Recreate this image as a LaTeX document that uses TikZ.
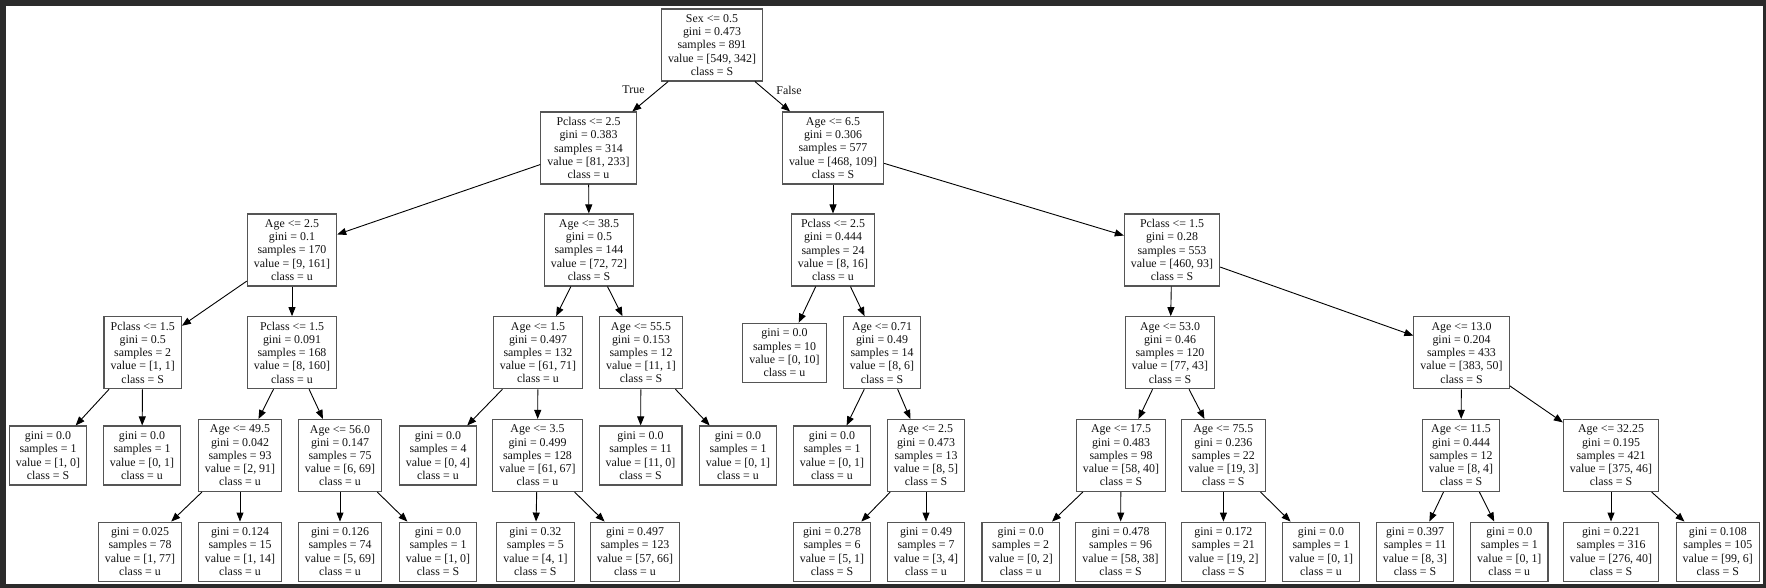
\documentclass[tikz,border=0pt]{standalone}
\usepackage{fontspec}
\setmainfont{Liberation Serif}
\usetikzlibrary{arrows.meta}
\definecolor{framegray}{HTML}{2B2B2B}
\definecolor{boxgray}{HTML}{555555}
\definecolor{txt}{HTML}{111111}
\tikzset{
  tnode/.style={draw=boxgray, line width=1.1pt, fill=white, text=txt, align=center,
    inner xsep=6.6pt, inner ysep=2pt, font=\fontsize{11.9}{13.2}\selectfont},
  split/.style={tnode, minimum height=72pt},
  leaf/.style={tnode, minimum height=59pt},
  edge/.style={draw=black, line width=0.9pt, -{Triangle[length=9pt,width=7pt]}},
  elabel/.style={text=txt, inner sep=0pt, font=\fontsize{11.9}{13.2}\selectfont}
}
\begin{document}
\begin{tikzpicture}[x=1pt,y=-1pt]
\useasboundingbox (0,0) rectangle (1766,588);
\fill[framegray] (0,0) rectangle (1766,588);
\fill[white] (5.7,6) rectangle (1762.7,583.5);

% level 0
\node[split] (n0) at (712,45) {Sex <= 0.5\\gini = 0.473\\samples = 891\\value = [549, 342]\\class = S};
% level 1
\node[split] (n1) at (588.5,148) {Pclass <= 2.5\\gini = 0.383\\samples = 314\\value = [81, 233]\\class = u};
\node[split] (n2) at (833,148) {Age <= 6.5\\gini = 0.306\\samples = 577\\value = [468, 109]\\class = S};
% level 2
\node[split] (n3) at (292,250) {Age <= 2.5\\gini = 0.1\\samples = 170\\value = [9, 161]\\class = u};
\node[split] (n4) at (589,250) {Age <= 38.5\\gini = 0.5\\samples = 144\\value = [72, 72]\\class = S};
\node[split] (n5) at (833,250) {Pclass <= 2.5\\gini = 0.444\\samples = 24\\value = [8, 16]\\class = u};
\node[split] (n6) at (1172,250) {Pclass <= 1.5\\gini = 0.28\\samples = 553\\value = [460, 93]\\class = S};
% level 3
\node[split] (n7) at (142.7,352.7) {Pclass <= 1.5\\gini = 0.5\\samples = 2\\value = [1, 1]\\class = S};
\node[split] (n8) at (292,352.7) {Pclass <= 1.5\\gini = 0.091\\samples = 168\\value = [8, 160]\\class = u};
\node[split] (n9) at (538,352.7) {Age <= 1.5\\gini = 0.497\\samples = 132\\value = [61, 71]\\class = u};
\node[split] (n10) at (641,352.7) {Age <= 55.5\\gini = 0.153\\samples = 12\\value = [11, 1]\\class = S};
\node[leaf] (n11) at (784.5,352.7) {gini = 0.0\\samples = 10\\value = [0, 10]\\class = u};
\node[split] (n12) at (882,352.7) {Age <= 0.71\\gini = 0.49\\samples = 14\\value = [8, 6]\\class = S};
\node[split] (n13) at (1170,352.7) {Age <= 53.0\\gini = 0.46\\samples = 120\\value = [77, 43]\\class = S};
\node[split] (n14) at (1461.5,352.7) {Age <= 13.0\\gini = 0.204\\samples = 433\\value = [383, 50]\\class = S};
% level 4
\node[leaf] (n15) at (48,455.5) {gini = 0.0\\samples = 1\\value = [1, 0]\\class = S};
\node[leaf] (n16) at (142,455.5) {gini = 0.0\\samples = 1\\value = [0, 1]\\class = u};
\node[split] (n17) at (240,455.5) {Age <= 49.5\\gini = 0.042\\samples = 93\\value = [2, 91]\\class = u};
\node[split] (n18) at (340,455.5) {Age <= 56.0\\gini = 0.147\\samples = 75\\value = [6, 69]\\class = u};
\node[leaf] (n19) at (438,455.5) {gini = 0.0\\samples = 4\\value = [0, 4]\\class = u};
\node[split] (n20) at (537.5,455.5) {Age <= 3.5\\gini = 0.499\\samples = 128\\value = [61, 67]\\class = u};
\node[leaf] (n21) at (640.5,455.5) {gini = 0.0\\samples = 11\\value = [11, 0]\\class = S};
\node[leaf] (n22) at (738,455.5) {gini = 0.0\\samples = 1\\value = [0, 1]\\class = u};
\node[leaf] (n23) at (832,455.5) {gini = 0.0\\samples = 1\\value = [0, 1]\\class = u};
\node[split] (n24) at (926,455.5) {Age <= 2.5\\gini = 0.473\\samples = 13\\value = [8, 5]\\class = S};
\node[split] (n25) at (1121,455.5) {Age <= 17.5\\gini = 0.483\\samples = 98\\value = [58, 40]\\class = S};
\node[split] (n26) at (1223.4,455.5) {Age <= 75.5\\gini = 0.236\\samples = 22\\value = [19, 3]\\class = S};
\node[split] (n27) at (1461,455.5) {Age <= 11.5\\gini = 0.444\\samples = 12\\value = [8, 4]\\class = S};
\node[split] (n28) at (1611,455.5) {Age <= 32.25\\gini = 0.195\\samples = 421\\value = [375, 46]\\class = S};
% level 5
\node[leaf] (n29) at (140,551.6) {gini = 0.025\\samples = 78\\value = [1, 77]\\class = u};
\node[leaf] (n30) at (240,551.6) {gini = 0.124\\samples = 15\\value = [1, 14]\\class = u};
\node[leaf] (n31) at (340,551.6) {gini = 0.126\\samples = 74\\value = [5, 69]\\class = u};
\node[leaf] (n32) at (438,551.6) {gini = 0.0\\samples = 1\\value = [1, 0]\\class = S};
\node[leaf] (n33) at (535.4,551.6) {gini = 0.32\\samples = 5\\value = [4, 1]\\class = S};
\node[leaf] (n34) at (635,551.6) {gini = 0.497\\samples = 123\\value = [57, 66]\\class = u};
\node[leaf] (n35) at (832,551.6) {gini = 0.278\\samples = 6\\value = [5, 1]\\class = S};
\node[leaf] (n36) at (926,551.6) {gini = 0.49\\samples = 7\\value = [3, 4]\\class = u};
\node[leaf] (n37) at (1020.7,551.6) {gini = 0.0\\samples = 2\\value = [0, 2]\\class = u};
\node[leaf] (n38) at (1120.5,551.6) {gini = 0.478\\samples = 96\\value = [58, 38]\\class = S};
\node[leaf] (n39) at (1223.4,551.6) {gini = 0.172\\samples = 21\\value = [19, 2]\\class = S};
\node[leaf] (n40) at (1321,551.6) {gini = 0.0\\samples = 1\\value = [0, 1]\\class = u};
\node[leaf] (n41) at (1415,551.6) {gini = 0.397\\samples = 11\\value = [8, 3]\\class = S};
\node[leaf] (n42) at (1509.3,551.6) {gini = 0.0\\samples = 1\\value = [0, 1]\\class = u};
\node[leaf] (n43) at (1611,551.6) {gini = 0.221\\samples = 316\\value = [276, 40]\\class = S};
\node[leaf] (n44) at (1717.8,551.6) {gini = 0.108\\samples = 105\\value = [99, 6]\\class = S};

% edge labels
\node[elabel] (lt) at (633.5,90) {True};
\node[elabel] (lf) at (789,90) {False};

% edges
\foreach \p/\c in {n0/n1,n0/n2,n1/n3,n1/n4,n2/n5,n2/n6,
  n3/n7,n3/n8,n4/n9,n4/n10,n5/n11,n5/n12,n6/n13,n6/n14,
  n7/n15,n7/n16,n8/n17,n8/n18,n9/n19,n9/n20,n10/n21,n10/n22,
  n12/n23,n12/n24,n13/n25,n13/n26,n14/n27,n14/n28,
  n17/n29,n17/n30,n18/n31,n18/n32,n20/n33,n20/n34,
  n24/n35,n24/n36,n25/n37,n25/n38,n26/n39,n26/n40,
  n27/n41,n27/n42,n28/n43,n28/n44}
  \draw[edge] (\p) -- (\c);
\end{tikzpicture}
\end{document}
